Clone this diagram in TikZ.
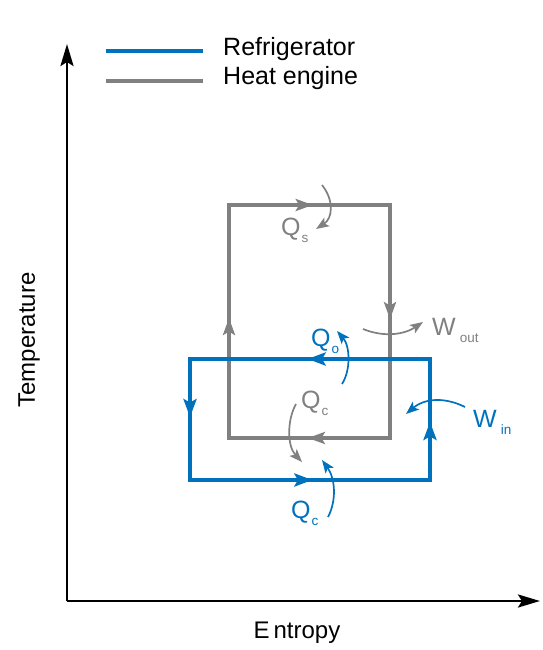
\documentclass[tikz,border=0pt]{standalone}
\usepackage{fontspec}
\setmainfont{Liberation Sans}
\usetikzlibrary{arrows.meta,calc}
\definecolor{refblue}{RGB}{0,114,189}
\definecolor{enggray}{RGB}{128,128,128}
\newcommand{\qsub}[2]{#1\kern1pt\raisebox{-7pt}{\fontsize{13.5}{13.5}\selectfont #2}}
\tikzset{
  axis/.style={line width=2.8pt,-{Stealth[length=22pt,width=13pt,inset=4pt]}},
  grayline/.style={draw=enggray,line width=3.8pt,line join=miter},
  blueline/.style={draw=refblue,line width=4.8pt,line join=miter},
  graytip/.style={grayline,-{Stealth[length=17pt,width=12pt,inset=3.5pt]}},
  bluetip/.style={blueline,-{Stealth[length=18pt,width=13pt,inset=3.5pt]}},
  heatarrow/.style={line width=1.7pt,-{Stealth[length=13pt,width=10pt,inset=3pt]}},
  lbl/.style={inner sep=0pt,anchor=base west,font=\fontsize{25}{25}\selectfont},
  legtext/.style={inner sep=0pt,anchor=west,font=\fontsize{25}{25}\selectfont},
  axlabel/.style={inner sep=0pt,font=\fontsize{24}{24}\selectfont},
}
\begin{document}
\begin{tikzpicture}[x=1pt,y=-1pt]
\useasboundingbox (0,0) rectangle (542,650);
% axes
\coordinate (origin) at (67,601);
\coordinate (ytip) at (67,44);
\coordinate (xtip) at (540,601);
\draw[axis] (origin) -- (ytip);
\draw[axis] (origin) -- (xtip);
\node[axlabel,rotate=90] (tlabel) at (29,340) {Temperature};
\node[axlabel] (slabel) at (297,633) {E\,ntropy};
% legend
\coordinate (lb1) at (106,51);
\coordinate (lb2) at (203,51);
\coordinate (lg1) at (106,81);
\coordinate (lg2) at (203,81);
\draw[refblue,line width=4.8pt] (lb1) -- (lb2);
\draw[enggray,line width=4.5pt] (lg1) -- (lg2);
\node[legtext] (legr) at (223,49) {Refrigerator};
\node[legtext] (legh) at (223,78) {Heat engine};
% heat engine cycle (clockwise)
\coordinate (g1) at (229,205);
\coordinate (g2) at (390,205);
\coordinate (g3) at (390,438);
\coordinate (g4) at (229,438);
\draw[grayline] (g1) -- (g2) -- (g3) -- (g4) -- cycle;
\draw[graytip] ($(g1)!0.3!(g2)$) -- ($(g1)!0.52!(g2)$);
\draw[graytip] ($(g2)!0.3!(g3)$) -- ($(g2)!0.49!(g3)$);
\draw[graytip] ($(g3)!0.3!(g4)$) -- ($(g3)!0.51!(g4)$);
\draw[graytip] ($(g4)!0.3!(g1)$) -- ($(g4)!0.515!(g1)$);
% refrigerator cycle (counter-clockwise)
\coordinate (b1) at (430,359);
\coordinate (b2) at (190,359);
\coordinate (b3) at (190,480);
\coordinate (b4) at (430,480);
\draw[blueline] (b1) -- (b2) -- (b3) -- (b4) -- cycle;
\draw[bluetip] ($(b1)!0.3!(b2)$) -- ($(b1)!0.51!(b2)$);
\draw[bluetip] ($(b2)!0.2!(b3)$) -- ($(b2)!0.48!(b3)$);
\draw[bluetip] ($(b3)!0.3!(b4)$) -- ($(b3)!0.51!(b4)$);
\draw[bluetip] ($(b4)!0.2!(b1)$) -- ($(b4)!0.48!(b1)$);
% heat / work arrows
\coordinate (qs1) at (322,185);
\coordinate (qs2) at (316,229);
\draw[heatarrow,enggray] (qs1) .. controls (334,200) and (333,218) .. (qs2);
\node[lbl,text=enggray] (qs) at (281,235) {\qsub{Q}{s}};

\coordinate (wo1) at (363,329);
\coordinate (wo2) at (423,322);
\draw[heatarrow,enggray] (wo1) .. controls (385,338) and (405,334) .. (wo2);
\node[lbl,text=enggray] (wout) at (432,335) {\qsub{W}{\kern3pt out}};

\coordinate (qo1) at (342,384);
\coordinate (qo2) at (337,331);
\draw[heatarrow,refblue] (qo1) .. controls (351,370) and (350,346) .. (qo2);
\node[lbl,text=refblue] (qo) at (311,346) {\qsub{Q}{o}};

\coordinate (qc1) at (296,404);
\coordinate (qc2) at (302,462);
\draw[heatarrow,enggray] (qc1) .. controls (287,420) and (287,446) .. (qc2);
\node[lbl,text=enggray] (qcg) at (301,408) {\qsub{Q}{c}};

\coordinate (qb1) at (328,517);
\coordinate (qb2) at (322,460);
\draw[heatarrow,refblue] (qb1) .. controls (337,500) and (335,478) .. (qb2);
\node[lbl,text=refblue] (qcb) at (291,518) {\qsub{Q}{c}};

\coordinate (wi1) at (465,407);
\coordinate (wi2) at (406,414);
\draw[heatarrow,refblue] (wi1) .. controls (445,397) and (425,398) .. (wi2);
\node[lbl,text=refblue] (win) at (473,427) {\qsub{W}{\kern3pt in}};
\end{tikzpicture}
\end{document}
